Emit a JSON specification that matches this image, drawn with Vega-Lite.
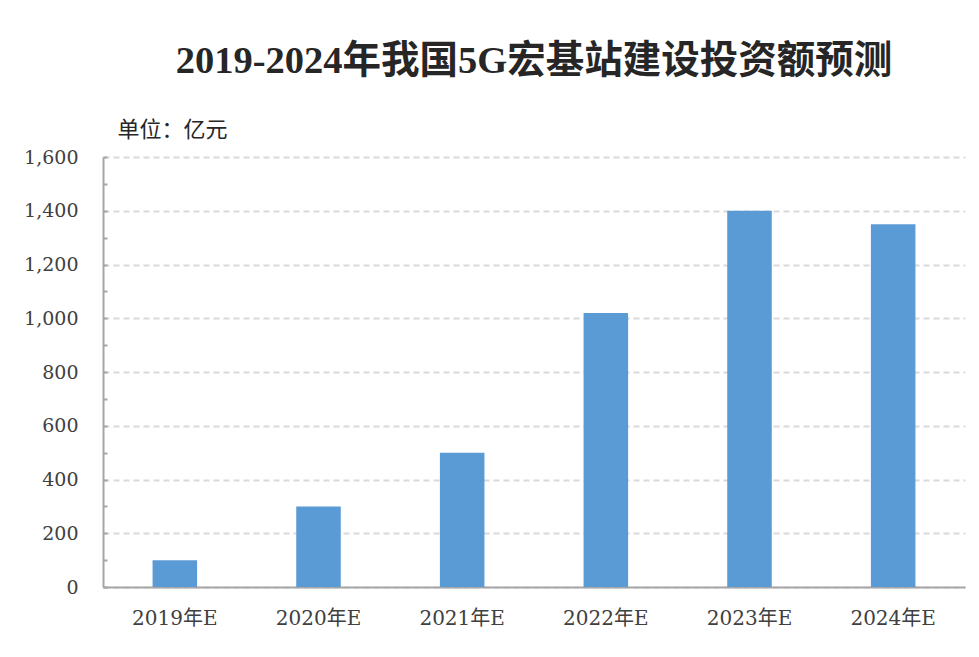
{
  "$schema": "https://vega.github.io/schema/vega-lite/v6.json",
  "width": 862,
  "height": 430,
  "autosize": {"type": "none"},
  "padding": {"left": 103, "top": 157, "right": 14, "bottom": 70},
  "background": "white",
  "title": {
    "text": "2019-2024年我国5G宏基站建设投资额预测",
    "font": "Liberation Serif, Noto Sans CJK SC",
    "fontSize": 38.5,
    "fontWeight": "bold",
    "color": "#262626",
    "anchor": "middle",
    "offset": 37
  },
  "data": {
    "values": [
      {"year": "2019年E", "value": 100},
      {"year": "2020年E", "value": 300},
      {"year": "2021年E", "value": 500},
      {"year": "2022年E", "value": 1020},
      {"year": "2023年E", "value": 1400},
      {"year": "2024年E", "value": 1350}
    ]
  },
  "mark": {"type": "bar", "color": "#5B9BD5"},
  "encoding": {
    "x": {
      "field": "year",
      "type": "nominal",
      "sort": null,
      "scale": {"paddingInner": 0.69, "paddingOuter": 0.345},
      "axis": {
        "title": null,
        "labelAngle": 0,
        "ticks": false,
        "labelPadding": 21,
        "labelFont": "DejaVu Serif, Noto Sans CJK SC",
        "labelFontSize": 20,
        "labelColor": "#404040",
        "domainColor": "#A6A6A6",
        "domainWidth": 2
      }
    },
    "y": {
      "field": "value",
      "type": "quantitative",
      "scale": {"domain": [0, 1600], "nice": false},
      "axis": {
        "title": "单位：亿元",
        "titleAngle": 0,
        "titleAlign": "left",
        "titleBaseline": "alphabetic",
        "titleX": 14,
        "titleY": -21,
        "titleFont": "Noto Sans CJK SC",
        "titleFontSize": 22,
        "titleFontWeight": "normal",
        "titleColor": "#262626",
        "values": [0, 100, 200, 300, 400, 500, 600, 700, 800, 900, 1000, 1100, 1200, 1300, 1400, 1500, 1600],
        "labelExpr": "datum.value % 200 == 0 ? format(datum.value, ',') : ''",
        "labelFont": "DejaVu Serif",
        "labelFontSize": 19,
        "labelColor": "#404040",
        "labelPadding": 29,
        "tickSize": -4,
        "tickColor": "#A6A6A6",
        "tickWidth": 2,
        "domainColor": "#A6A6A6",
        "domainWidth": 2,
        "grid": true,
        "gridColor": "#D9D9D9",
        "gridWidth": 2,
        "gridDash": [6, 4],
        "gridOpacity": {"condition": {"test": "datum.value % 200 == 0", "value": 1}, "value": 0}
      }
    }
  },
  "config": {"view": {"stroke": null}}
}
